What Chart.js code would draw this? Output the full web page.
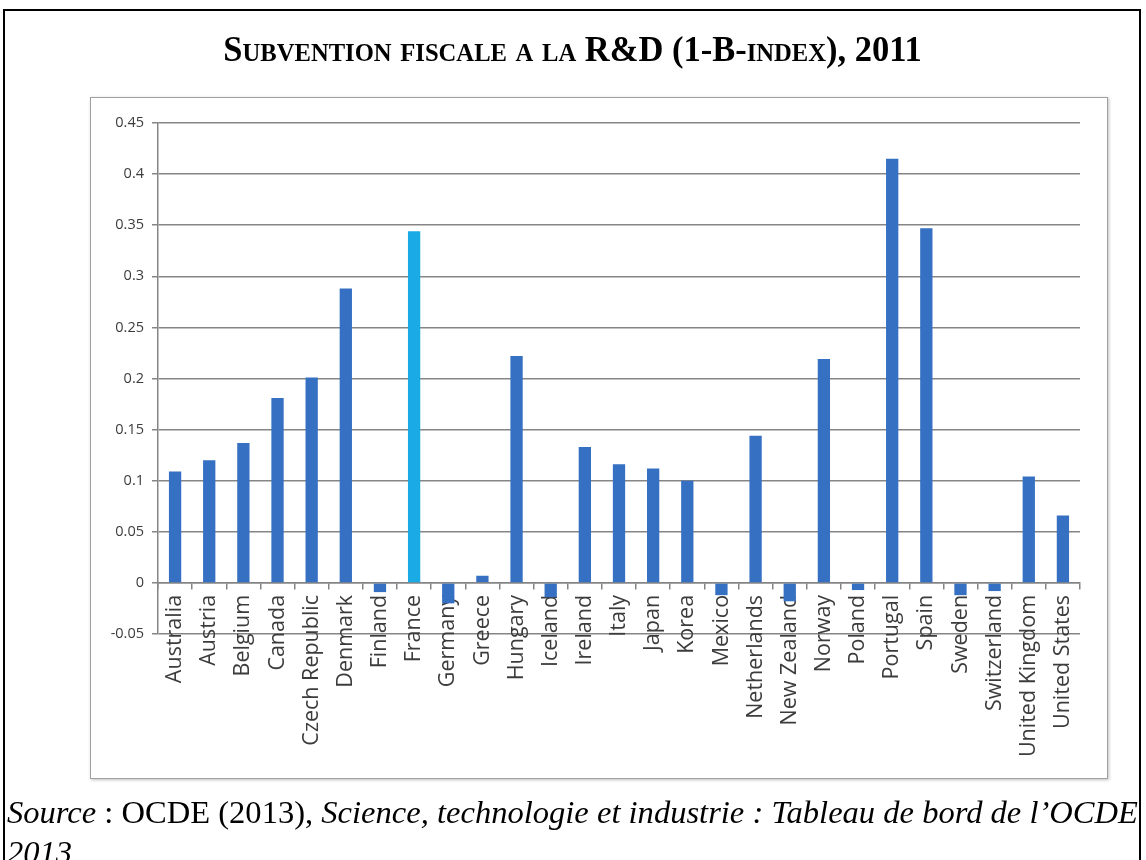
<!DOCTYPE html>
<html>
<head>
<meta charset="utf-8">
<script src="https://cdn.jsdelivr.net/npm/chart.js@4/dist/chart.umd.min.js"></script>
<style>
  html, body { margin: 0; padding: 0; background: #fff; }
  body { width: 1146px; height: 860px; position: relative; overflow: hidden; }
  #outer { position: absolute; left: 3px; top: 9px; width: 1138px; height: 900px; border: 2px solid #000; box-sizing: border-box; }
  #inner { position: absolute; left: 90px; top: 97px; width: 1018px; height: 682px; border: 1.5px solid #a0a0a0; box-sizing: border-box; box-shadow: 1px 1px 3px rgba(0,0,0,0.25); }
  #wrap { position: absolute; left: 0; top: 0; width: 1146px; height: 860px; }
  #title { position: absolute; left: 0; top: 30px; width: 1146px; text-align: center; font-family: "Liberation Serif", "Times New Roman", serif; font-weight: bold; font-size: 35px; font-variant: small-caps; color: #000; white-space: nowrap; }
  #title span { display: inline-block; transform: scaleX(0.985); transform-origin: center; }
  #source { position: absolute; left: 7px; top: 793px; font-family: "Liberation Serif", "Times New Roman", serif; font-size: 31px; line-height: 40px; color: #000; white-space: nowrap; }
  #source .l { display: block; transform: scaleX(1.05); transform-origin: left; }
</style>
</head>
<body>
<div id="outer"></div>
<div id="inner"></div>
<div id="wrap"><canvas id="c"></canvas></div>
<div id="title"><span>Subvention fiscale a la R&amp;D (1-B-index), 2011</span></div>
<div id="source"><span class="l"><i>Source</i> : OCDE (2013), <i>Science, technologie et industrie : Tableau de bord de l’OCDE</i></span><span class="l"><i>2013</i></span></div>
<script>
const categories = ["Australia","Austria","Belgium","Canada","Czech Republic","Denmark","Finland","France","Germany","Greece","Hungary","Iceland","Ireland","Italy","Japan","Korea","Mexico","Netherlands","New Zealand","Norway","Poland","Portugal","Spain","Sweden","Switzerland","United Kingdom","United States"];
const subsidyValues = [0.109,0.120,0.137,0.181,0.201,0.288,-0.009,0.344,-0.020,0.007,0.222,-0.014,0.133,0.116,0.112,0.100,-0.012,0.144,-0.018,0.219,-0.007,0.415,0.347,-0.012,-0.008,0.104,0.066];
const highlighted = "France";
const yTickMin = -0.05;
const yTickMax = 0.45;
const yTickStep = 0.05;

const baseColor = "#3570c2";
const highlightColor = "#1aaae6";
const barColors = categories.map(c => c === highlighted ? highlightColor : baseColor);

const gridColor = "#858585";

new Chart(document.getElementById("c"), {
  type: "bar",
  data: {
    labels: categories,
    datasets: [{
      data: subsidyValues,
      backgroundColor: barColors,
      borderWidth: 0,
      barPercentage: 0.36,
      categoryPercentage: 1.0
    }]
  },
  options: {
    responsive: true,
    maintainAspectRatio: false,
    animation: false,
    layout: { padding: { left: 98, top: 123, right: 66, bottom: 226 } },
    plugins: { legend: { display: false }, tooltip: { enabled: false } },
    scales: {
      x: {
        position: { y: 0 },
        offset: true,
        grid: { display: true, drawOnChartArea: false, drawTicks: true, tickLength: 6, color: gridColor, lineWidth: 1.5, offset: true },
        border: { display: true, color: gridColor, width: 1.5 },
        ticks: { autoSkip: false, maxRotation: 90, minRotation: 90, padding: 6, color: "#3c3c3c", font: { family: "'Open Sans', 'DejaVu Sans', sans-serif", size: 21.5 } }
      },
      y: {
        min: yTickMin,
        max: yTickMax,
        afterFit: s => { s.width = 60; },
        grid: { color: gridColor, lineWidth: 1.5, drawTicks: true, tickLength: 6 },
        border: { display: true, color: gridColor, width: 1.5 },
        ticks: {
          stepSize: yTickStep,
          padding: 8,
          color: "#3c3c3c",
          font: { family: "'Open Sans', 'DejaVu Sans', sans-serif", size: 14.5 },
          callback: v => String(parseFloat(Number(v).toFixed(2)))
        }
      }
    }
  }
});
</script>
</body>
</html>
